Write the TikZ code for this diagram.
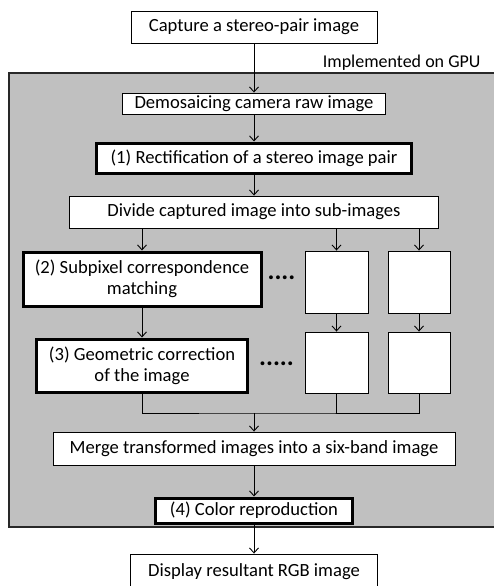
\documentclass[tikz,border=0pt]{standalone}
\usepackage{fontspec}
\setmainfont{Carlito}
\usetikzlibrary{arrows.meta}
\begin{document}
\begin{tikzpicture}[x=1pt,y=-1pt,
  font=\fontsize{18.6}{21}\selectfont,
  box/.style={draw=black,fill=white,line width=0.9pt,inner sep=0pt,align=center},
  thickbox/.style={box,line width=3pt},
  dots/.style={font=\fontsize{26}{28}\selectfont\bfseries,inner sep=0pt,anchor=base},
  arr/.style={-{Straight Barb[length=5pt,width=9pt,line width=0.9pt]},line width=0.9pt},
  ln/.style={line width=0.9pt}]
\useasboundingbox (0,0) rectangle (494,586);
\clip (0,0) rectangle (494,586);
\draw[line width=1.5pt,fill={rgb,255:red,192;green,192;blue,192},draw={rgb,255:red,40;green,40;blue,40}] (9,73) rectangle (510,527);
\node[anchor=base east,font=\fontsize{18}{21}\selectfont] (gpu) at (484,67) {Implemented on GPU};
\node[box,minimum width=246pt,minimum height=32pt] (cap) at (254,27) {Capture a stereo-pair image};
\node[box,minimum width=263pt,minimum height=21pt] (demo) at (254,103.5) {Demosaicing camera raw image};
\node[thickbox,minimum width=315pt,minimum height=30pt] (rect) at (254,158) {(1) Rectification of a stereo image pair};
\node[box,minimum width=369pt,minimum height=32pt] (div) at (254,212) {Divide captured image into sub-images};
\node[thickbox,minimum width=238pt,minimum height=54pt] (sub) at (142,279) {(2) Subpixel correspondence\\matching};
\node[box,minimum width=63pt,minimum height=62pt] (s1) at (336.5,282) {};
\node[box,minimum width=62pt,minimum height=62pt] (s2) at (419,282) {};
\node[thickbox,minimum width=211pt,minimum height=53pt] (geo) at (142,365.5) {(3) Geometric correction\\of the image};
\node[box,minimum width=63pt,minimum height=61pt] (s3) at (336.5,362.5) {};
\node[box,minimum width=62pt,minimum height=61pt] (s4) at (419,362.5) {};
\node[dots] (d1) at (281.5,279) {....};
\node[dots] (d2) at (276.5,365) {.....};
\node[box,minimum width=402pt,minimum height=33pt] (merge) at (254,448.5) {Merge transformed images into a six-band image};
\node[thickbox,minimum width=197pt,minimum height=25pt] (color) at (254,510.5) {(4) Color reproduction};
\node[box,minimum width=247pt,minimum height=36pt] (disp) at (254,572) {Display resultant RGB image};
\coordinate (j) at (254,413);
\draw[arr] (cap) -- (demo);
\draw[arr] (demo) -- (rect);
\draw[arr] (rect) -- (div);
\draw[arr] (div.south -| sub) -- (sub);
\draw[arr] (div.south -| s1) -- (s1);
\draw[arr] (div.south -| s2) -- (s2);
\draw[arr] (sub.south -| geo) -- (geo);
\draw[arr] (s1) -- (s3);
\draw[arr] (s2) -- (s4);
\draw[ln] (geo.south) |- (j) -| (s4.south);
\draw[ln] (s3.south) -- (s3.south |- j);
\draw[arr] (j) -- (merge);
\draw[arr] (merge) -- (color);
\draw[arr] (color) -- (disp);
\end{tikzpicture}
\end{document}
